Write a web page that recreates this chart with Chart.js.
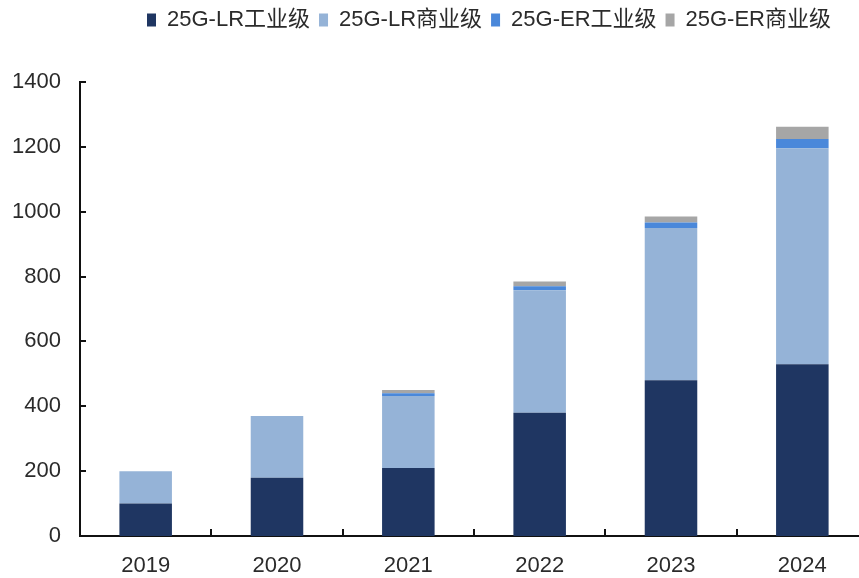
<!DOCTYPE html>
<html>
<head>
<meta charset="utf-8">
<script src="https://cdn.jsdelivr.net/npm/chart.js@4/dist/chart.umd.min.js"></script>
<style>
  html, body { margin: 0; padding: 0; background: #fff; overflow: hidden; }
  #wrap { position: relative; width: 880px; height: 578px; }
</style>
</head>
<body>
<div id="wrap"><canvas id="c"></canvas></div>
<script>
const categories = ['2019', '2020', '2021', '2022', '2023', '2024'];
const seriesNames = ['25G-LR工业级', '25G-LR商业级', '25G-ER工业级', '25G-ER商业级'];
const lrIndustrial = [100, 180, 210, 380, 480, 530];
const lrCommercial = [100, 190, 222, 378, 470, 666];
const erIndustrial = [0, 0, 8, 12, 17, 28];
const erCommercial = [0, 0, 10, 15, 18, 38];
const yTicks = [0, 200, 400, 600, 800, 1000, 1200, 1400];
const seriesColors = ['#1F3662', '#95B3D7', '#4A88DA', '#A6A6A6'];

const FONT = "'Liberation Sans', Arial, 'Noto Sans CJK SC', sans-serif";
const TEXT = '#2b2b2b';

const innerTicks = {
  id: 'innerTicks',
  afterLayout(chart) {
    const lg = chart.legend;
    if (lg) {
      const pad = lg.options.labels.padding;
      lg.left = 147 - pad;
      lg.right = lg.left + 800;
      lg.top = 0;
      lg.bottom = lg.height;
    }
  },
  afterDatasetsDraw(chart) {
    const ctx = chart.ctx;
    const x = chart.scales.x, y = chart.scales.y;
    const area = chart.chartArea;
    ctx.save();
    ctx.strokeStyle = '#111';
    ctx.lineWidth = 2;
    ctx.beginPath();
    yTicks.forEach(v => {
      const py = Math.round(y.getPixelForValue(v));
      ctx.moveTo(area.left, py);
      ctx.lineTo(area.left + 6, py);
    });
    const step = x.getPixelForValue(1) - x.getPixelForValue(0);
    for (let i = 0; i < categories.length - 1; i++) {
      const px = Math.round(x.getPixelForValue(i) + step / 2);
      ctx.moveTo(px, area.bottom);
      ctx.lineTo(px, area.bottom - 7);
    }
    ctx.stroke();
    ctx.restore();
  }
};

const series = [lrIndustrial, lrCommercial, erIndustrial, erCommercial];

new Chart(document.getElementById('c'), {
  type: 'bar',
  data: {
    labels: categories,
    datasets: series.map((d, i) => ({
      label: seriesNames[i],
      data: d,
      backgroundColor: seriesColors[i],
      borderWidth: 0,
      categoryPercentage: 1,
      barPercentage: 0.4
    }))
  },
  options: {
    responsive: true,
    maintainAspectRatio: false,
    animation: false,
    layout: { padding: { top: 41, right: 12, bottom: 0, left: 0 } },
    plugins: {
      tooltip: { enabled: false },
      legend: {
        position: 'top',
        align: 'start',
        labels: {
          boxWidth: 9,
          boxHeight: 13,
          padding: 9,
          color: TEXT,
          font: { family: FONT, size: 22 }
        }
      }
    },
    scales: {
      x: {
        stacked: true,
        grid: { display: false, drawTicks: false },
        border: { display: true, color: '#111', width: 2 },
        ticks: { color: TEXT, padding: 17, font: { family: FONT, size: 22 } },
        afterFit(s) { s.height = 42; }
      },
      y: {
        stacked: true,
        min: 0,
        max: 1400,
        grid: { display: false, drawTicks: false },
        border: { display: true, color: '#111', width: 2 },
        afterBuildTicks(s) { s.ticks = yTicks.map(v => ({ value: v })); },
        ticks: {
          color: TEXT,
          padding: 19,
          font: { family: FONT, size: 22 },
          callback: v => String(v)
        },
        afterFit(s) { s.width = 80; }
      }
    }
  },
  plugins: [innerTicks]
});
</script>
</body>
</html>
